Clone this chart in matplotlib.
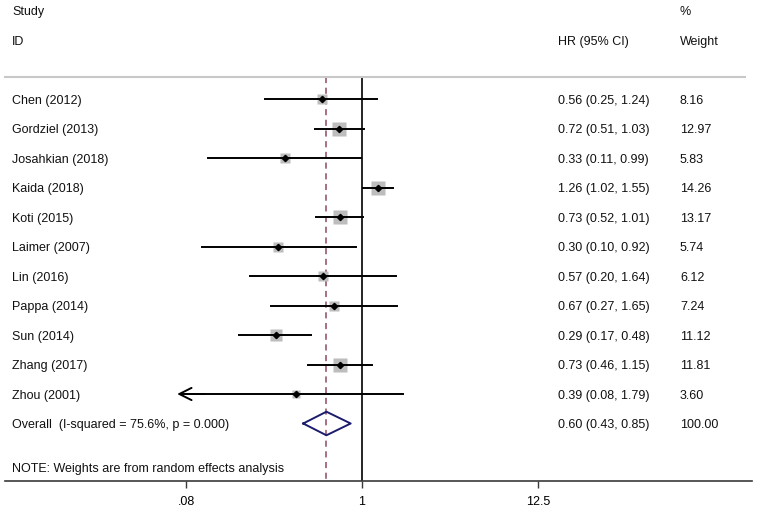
import numpy as np
import matplotlib
matplotlib.use("Agg")
import matplotlib.pyplot as plt
from matplotlib.transforms import blended_transform_factory

plt.rcParams['font.family'] = ['Liberation Sans', 'DejaVu Sans']

studies = ["Chen (2012)", "Gordziel (2013)", "Josahkian (2018)", "Kaida (2018)",
           "Koti (2015)", "Laimer (2007)", "Lin (2016)", "Pappa (2014)",
           "Sun (2014)", "Zhang (2017)", "Zhou (2001)"]
hr = [0.56, 0.72, 0.33, 1.26, 0.73, 0.30, 0.57, 0.67, 0.29, 0.73, 0.39]
lo = [0.25, 0.51, 0.11, 1.02, 0.52, 0.10, 0.20, 0.27, 0.17, 0.46, 0.08]
hi = [1.24, 1.03, 0.99, 1.55, 1.01, 0.92, 1.64, 1.65, 0.48, 1.15, 1.79]
weights = [8.16, 12.97, 5.83, 14.26, 13.17, 5.74, 6.12, 7.24, 11.12, 11.81, 3.60]
overall_label = "Overall  (I-squared = 75.6%, p = 0.000)"
overall = (0.60, 0.43, 0.85)
overall_weight = "100.00"
note = "NOTE: Weights are from random effects analysis"
xticks = [0.08, 1, 12.5]
xticklabels = [".08", "1", "12.5"]
clip_low = 0.08  # lower display limit; CIs below get an arrow

W, H = 757, 513
fig = plt.figure(figsize=(W / 100, H / 100), dpi=100)
ax = fig.add_axes([0, (H - 481) / H, 1, 481 / H])
ax.set_xscale('log')
# axis: 1 at px 362, 160.4 px per decade
ax.set_xlim(10 ** ((0 - 362) / 160.4), 10 ** ((W - 362) / 160.4))
ax.set_ylim(13.95, -2.36)

for s in ['top', 'right', 'left']:
    ax.spines[s].set_visible(False)
ax.spines['bottom'].set_color('#3a3a3a')
ax.spines['bottom'].set_linewidth(1.2)
ax.spines['bottom'].set_bounds(10 ** ((5 - 362) / 160.4), 10 ** ((752 - 362) / 160.4))
ax.set_yticks([])
ax.set_xticks(xticks)
ax.set_xticklabels(xticklabels, fontsize=9)
ax.xaxis.set_minor_locator(matplotlib.ticker.NullLocator())
ax.tick_params(axis='x', length=5, width=1, color='#3a3a3a', pad=6)

trans = blended_transform_factory(ax.transAxes, ax.transData)
fs = 9
toff = 0.06  # small vertical text offset to match baseline
n = len(studies)
rows = np.arange(1, n + 1)
y_over = n + 1


def label(xpx, y, s):
    ax.text(xpx / W, y + toff, s, transform=trans, fontsize=fs, va='center',
            color='#111111')


# header
label(12, -2.02, "Study")
label(12, -1.0, "ID")
label(558, -1.0, "HR (95% CI)")
label(680, -2.02, "%")
label(680, -1.0, "Weight")
ax.plot([5 / W, 745 / W], [0.25, 0.25], transform=trans, color='#c8c8c8', lw=1.5)

# reference lines
ax.plot([1, 1], [0.25, 13.95], color='black', lw=1.2, zorder=1)
ax.plot([overall[0]] * 2, [0.25, 13.95], color='#8c4a5c', lw=1.1,
        ls=(0, (4, 3)), zorder=1)

for i, y in enumerate(rows):
    label(12, y, studies[i])
    label(558, y, f"{hr[i]:.2f} ({lo[i]:.2f}, {hi[i]:.2f})")
    label(680, y, f"{weights[i]:.2f}")
    side_px = 3.8 * np.sqrt(weights[i])
    ax.plot(hr[i], y, marker='s', ms=side_px * 0.72, color='#bdbdbd', mec='none', zorder=2)
    if lo[i] <= clip_low:
        ax.plot([hi[i], lo[i]], [y, y], color='black', lw=1.4, zorder=3)
        ax.annotate('', xy=(lo[i] * 0.88, y), xytext=(lo[i] * 1.3, y),
                    arrowprops=dict(arrowstyle='->', lw=1.4, color='black',
                                    mutation_scale=22, shrinkA=0, shrinkB=0), zorder=3)
    else:
        ax.plot([lo[i], hi[i]], [y, y], color='black', lw=1.4, zorder=3)
    ax.plot(hr[i], y, marker='D', ms=3.2, color='black', zorder=4)

# overall
label(12, y_over, overall_label)
label(558, y_over, f"{overall[0]:.2f} ({overall[1]:.2f}, {overall[2]:.2f})")
label(680, y_over, overall_weight)
dh = 0.4
ax.plot([overall[1], overall[0], overall[2], overall[0], overall[1]],
        [y_over, y_over - dh, y_over, y_over + dh, y_over],
        color='#1c1c6e', lw=1.4, zorder=3)

label(12, 13.5, note)

fig.savefig("out.png", dpi=100)
